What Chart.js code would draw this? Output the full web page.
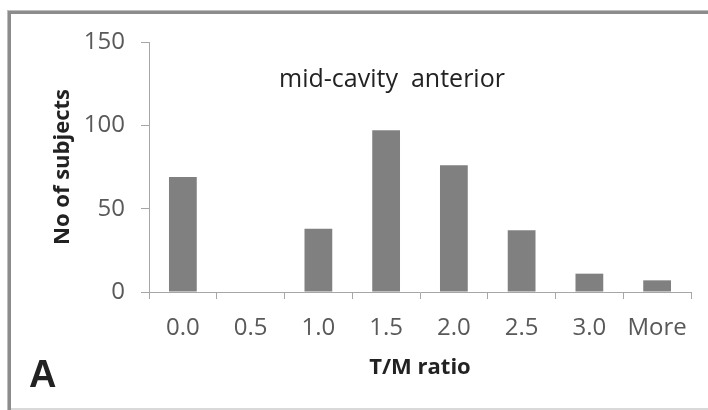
<!DOCTYPE html>
<html>
<head>
<meta charset="utf-8">
<script src="https://cdn.jsdelivr.net/npm/chart.js@4.4.0/dist/chart.umd.min.js"></script>
<style>
  html, body { margin: 0; padding: 0; background: #fff; }
  #wrap { width: 708px; height: 410px; }
</style>
</head>
<body>
<div id="wrap"><canvas id="myChart" width="708" height="410"></canvas></div>
<script>
const ctx = document.querySelector("#myChart");

// histogram data
const categories = ["0.0", "0.5", "1.0", "1.5", "2.0", "2.5", "3.0", "More"];
const subjects = [69, 0, 38, 97, 76, 37, 11, 7];
const yTicks = [0, 50, 100, 150];

const chartTitle = "mid-cavity  anterior";
const panelLabel = "A";

// frame, panel letter and inner title
const decorations = {
  id: "decorations",
  beforeDraw(chart) {
    const c = chart.ctx;
    c.save();
    c.fillStyle = "#fff";
    c.fillRect(0, 0, chart.width, chart.height);
    c.restore();
  },
  afterDraw(chart) {
    const c = chart.ctx;
    c.save();
    c.fillStyle = "#8c8c8c";
    c.fillRect(7, 10, 701, 4);
    c.fillRect(7, 10, 4, 400);
    c.fillStyle = "#bdbdbd";
    c.fillRect(7, 10, 701, 1);
    c.fillRect(7, 10, 1, 400);
    c.fillStyle = "#d9d9d9";
    c.fillRect(11, 408, 697, 2);

    c.fillStyle = "#222";
    c.font = "bold 38px 'Liberation Sans'";
    c.textAlign = "left";
    c.textBaseline = "alphabetic";
    c.fillText(panelLabel, 29, 387);

    c.font = "25px 'Open Sans'";
    c.textAlign = "center";
    c.fillText(chartTitle, 392, 87);
    c.restore();
  },
};

const config = {
  type: "bar",
  data: {
    labels: categories,
    datasets: [
      {
        data: subjects,
        backgroundColor: "#808080",
        borderWidth: 0,
        barPercentage: 0.41,
        categoryPercentage: 1,
      },
    ],
  },
  options: {
    responsive: false,
    animation: false,
    layout: {
      padding: { left: 50, top: 42, right: 17, bottom: 29 },
    },
    plugins: {
      legend: { display: false },
      tooltip: { enabled: false },
    },
    scales: {
      x: {
        afterFit: (scale) => { scale.height = 89; },
        grid: {
          offset: true,
          drawOnChartArea: false,
          drawTicks: true,
          tickLength: 7,
          color: "#a6a6a6",
        },
        border: { color: "#a6a6a6", width: 1 },
        ticks: {
          color: "#595959",
          padding: 15,
          font: { family: "'Open Sans'", size: 24 },
          maxRotation: 0,
        },
        title: {
          display: true,
          text: "T/M ratio",
          color: "#222",
          padding: 0,
          font: { family: "'Open Sans'", size: 22, weight: "bold" },
        },
      },
      y: {
        min: 0,
        max: 150,
        afterFit: (scale) => { scale.width = 99; },
        afterBuildTicks: (scale) => {
          scale.ticks = yTicks.map((v) => ({ value: v }));
        },
        grid: {
          drawOnChartArea: false,
          drawTicks: true,
          tickLength: 8,
          color: "#a6a6a6",
        },
        border: { color: "#a6a6a6", width: 1 },
        ticks: {
          color: "#595959",
          padding: 16,
          font: { family: "'Open Sans'", size: 24 },
        },
        title: {
          display: true,
          text: "No of subjects",
          color: "#222",
          padding: 0,
          font: { family: "'Open Sans'", size: 22, weight: "bold" },
        },
      },
    },
  },
  plugins: [decorations],
};

const myChart = new Chart(ctx, config);
</script>
</body>
</html>
